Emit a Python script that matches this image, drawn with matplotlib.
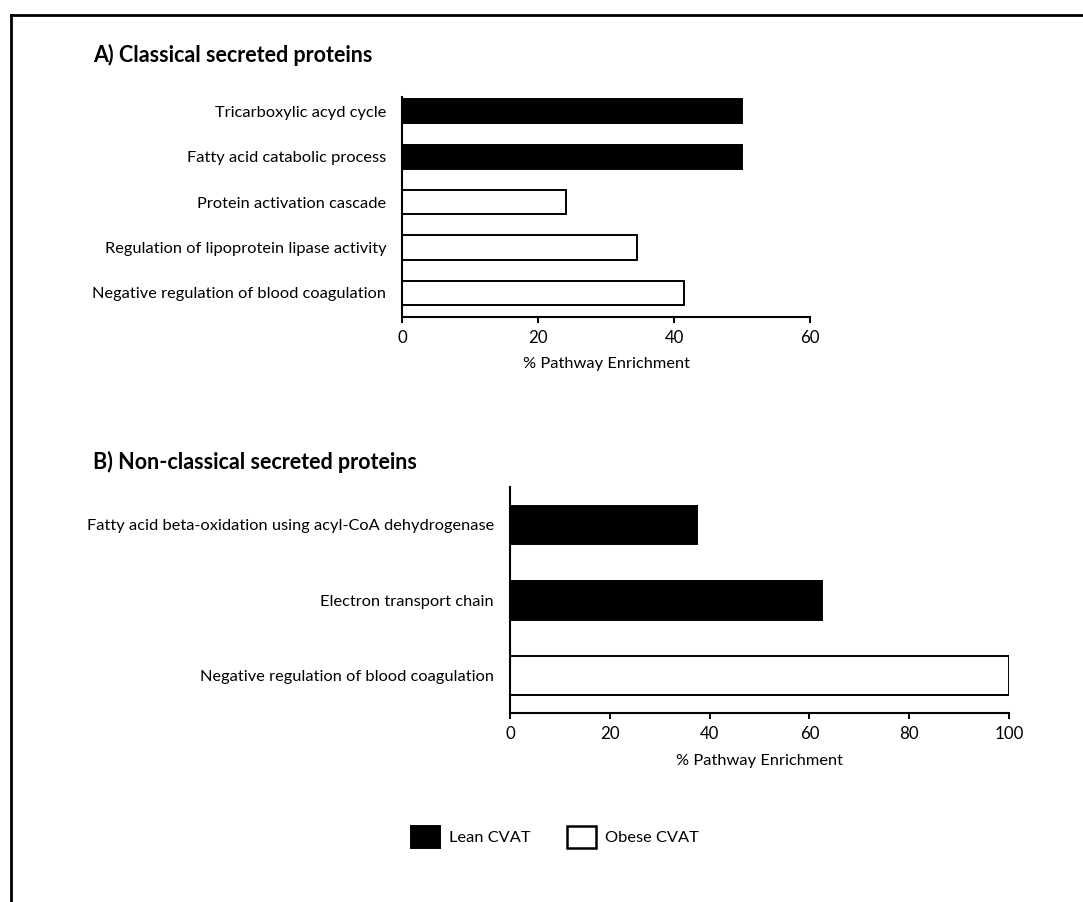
import numpy as np
import matplotlib.pyplot as plt
from matplotlib.patches import Patch
from matplotlib.lines import Line2D

plt.rcParams['font.family'] = ['Lato', 'DejaVu Sans']

# panel A: classical secreted proteins
terms_a = ['Tricarboxylic acyd cycle',
           'Fatty acid catabolic process',
           'Protein activation cascade',
           'Regulation of lipoprotein lipase activity',
           'Negative regulation of blood coagulation']
values_a = [50.0, 50.0, 24.1, 34.5, 41.4]
group_a = ['Lean', 'Lean', 'Obese', 'Obese', 'Obese']

# panel B: non-classical secreted proteins
terms_b = ['Fatty acid beta-oxidation using acyl-CoA dehydrogenase',
           'Electron transport chain',
           'Negative regulation of blood coagulation']
values_b = [37.5, 62.5, 100.0]
group_b = ['Lean', 'Lean', 'Obese']

fill = {'Lean': 'black', 'Obese': 'white'}
W, H = 1083, 902
FS = 11.8

fig = plt.figure(figsize=(W / 100, H / 100), dpi=100)

def panel(rect, terms, values, groups, xmax, ylim, height):
    ax = fig.add_axes(rect)
    y = np.arange(len(terms))
    ax.barh(y, values, height=height, color=[fill[g] for g in groups],
            edgecolor='black', linewidth=1.4)
    ax.set_yticks(y)
    ax.set_yticklabels(terms, fontsize=FS)
    ax.set_ylim(*ylim)
    ax.set_xlim(0, xmax)
    ax.set_xticks(np.arange(0, xmax + 1, 20))
    ax.tick_params(axis='y', length=0, pad=11.5)
    ax.tick_params(axis='x', length=4, width=1.4, labelsize=12.2, pad=5.5)
    for s in ['top', 'right']:
        ax.spines[s].set_visible(False)
    for s in ['left', 'bottom']:
        ax.spines[s].set_linewidth(1.5)
    ax.set_xlabel('% Pathway Enrichment', fontsize=FS, labelpad=8)
    return ax

ax_a = panel([402.3 / W, 1 - 317 / H, (810 - 402.3) / W, 220 / H],
             terms_a, values_a, group_a, 60, (4.53, -0.31), 0.53)
ax_b = panel([510 / W, 1 - 713.3 / H, (1009 - 510) / W, 226 / H],
             terms_b, values_b, group_b, 100, (2.5, -0.5), 0.515)

fig.text(93 / W, 1 - 55 / H, 'A) Classical secreted proteins',
         fontsize=15.5, fontweight='bold', va='center', ha='left')
fig.text(93 / W, 1 - 462 / H, 'B) Non-classical secreted proteins',
         fontsize=15.5, fontweight='bold', va='center', ha='left')

# legend
handles = [Patch(facecolor='black', edgecolor='black', linewidth=1.4, label='Lean CVAT'),
           Patch(facecolor='white', edgecolor='black', linewidth=1.8, label='Obese CVAT')]
fig.legend(handles=handles, loc='center', bbox_to_anchor=(555 / W, 1 - 837 / H),
           ncol=2, frameon=False, fontsize=FS, handlelength=1.75, handleheight=1.75,
           handletextpad=0.6, columnspacing=2.2, borderpad=0)

# frame around the figure (left and top only are visible)
fig.add_artist(Line2D([10.5 / W, 10.5 / W], [0, 1 - 14.5 / H], color='black',
                      linewidth=2, transform=fig.transFigure))
fig.add_artist(Line2D([10.5 / W, 1], [1 - 14.5 / H, 1 - 14.5 / H], color='black',
                      linewidth=2, transform=fig.transFigure))

fig.savefig('out.png', dpi=100)
